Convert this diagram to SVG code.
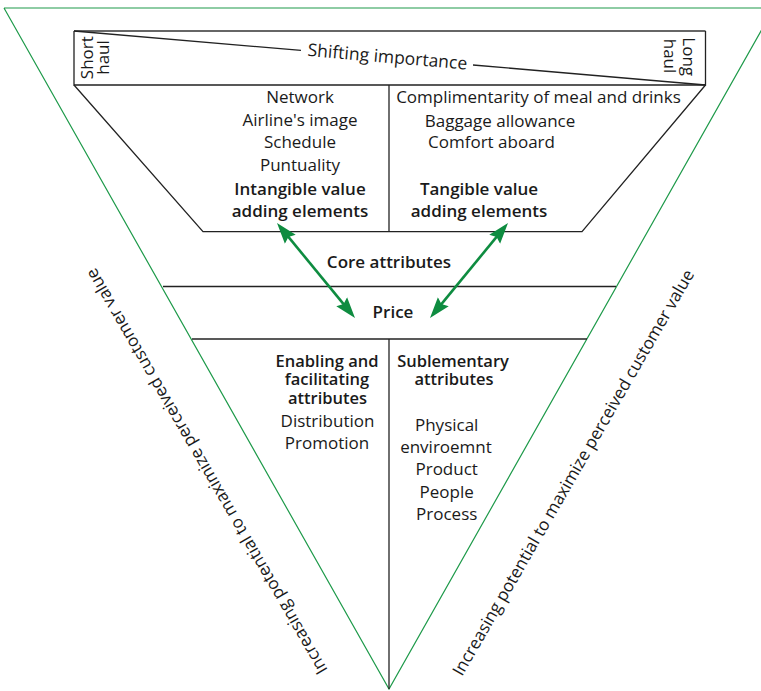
<svg xmlns="http://www.w3.org/2000/svg" width="761" height="691" viewBox="0 0 761 691">
<style>
text{font-family:"Open Sans","Noto Sans","Liberation Sans",sans-serif;font-size:17px;fill:#1a1a1a}
.m{text-anchor:middle}
.b{font-weight:600}
.s{font-size:16.5px}
.ln{stroke:#222;stroke-width:1.3;fill:none}
.g{stroke:#1e9a4a;stroke-width:1.2;fill:none}
.ar{stroke:#0e8c40;stroke-width:2.6;fill:none;marker-start:url(#ah);marker-end:url(#ah)}
</style>
<defs>
<marker id="ah" markerUnits="userSpaceOnUse" markerWidth="22" markerHeight="16" viewBox="0 0 22 16" refX="15" refY="8" orient="auto-start-reverse">
<path d="M0,1 L21,8 L0,15 L3,8 z" fill="#0e8c40"/>
</marker>
</defs>
<rect width="761" height="691" fill="#fff"/>
<g id="outer-triangle">
<path class="g" d="M4,8 L761,8 M4,8 L389,689 L774,8"/>
</g>
<g id="structure">
<line x1="74" y1="31" x2="705.5" y2="31" stroke="#666" stroke-width="2"/>
<path class="ln" d="M74,31 L74,85 L705.5,85 L705.5,31"/>
<path class="ln" d="M74,85 L203,231.7 L582,231.7 L705.5,85"/>
<line class="ln" x1="389" y1="85" x2="389" y2="231.7"/>
<line class="ln" x1="163" y1="286.5" x2="616" y2="286.5"/>
<line class="ln" x1="192" y1="339" x2="587" y2="339"/>
<line class="ln" x1="389" y1="339" x2="389" y2="689"/>
<path class="ln" d="M74,31 L301,50.4 M473,65 L705.5,85"/>
</g>
<g id="header">
<text class="m" style="font-size:17.5px" transform="translate(387,62.7) rotate(4.9)">Shifting importance</text>
<text class="m" transform="translate(93.3,57.7) rotate(-90)">Short</text>
<text class="m" transform="translate(109,57.5) rotate(-90)">haul</text>
<text class="m" transform="translate(682.5,56.7) rotate(90)">Long</text>
<text class="m" transform="translate(663.5,56) rotate(90)">haul</text>
</g>
<g id="intangible">
<text class="m" x="300" y="103.3">Network</text>
<text class="m" x="300" y="126">Airline's image</text>
<text class="m" x="300" y="148">Schedule</text>
<text class="m" x="300" y="171">Puntuality</text>
<text class="m b" x="300" y="194.5">Intangible value</text>
<text class="m b" x="300" y="216.5">adding elements</text>
</g>
<g id="tangible">
<text class="m" x="538.5" y="103.3">Complimentarity of meal and drinks</text>
<text class="m" x="500" y="126.5">Baggage allowance</text>
<text class="m" x="491.5" y="148">Comfort aboard</text>
<text class="m b" x="479" y="194.5">Tangible value</text>
<text class="m b" x="479" y="216.5">adding elements</text>
</g>
<g id="core">
<text class="m b" x="389" y="268.3">Core attributes</text>
</g>
<g id="price">
<text class="m b" x="393" y="317.7">Price</text>
</g>
<g id="enabling">
<text class="m b s" x="327" y="367.3">Enabling and</text>
<text class="m b s" x="327" y="385">facilitating</text>
<text class="m b s" x="327.5" y="404">attributes</text>
<text class="m" x="327.5" y="427">Distribution</text>
<text class="m" x="327" y="449">Promotion</text>
</g>
<g id="sublementary">
<text class="m b s" x="453" y="367.3">Sublementary</text>
<text class="m b s" x="454" y="385">attributes</text>
<text class="m" x="446.7" y="430.7">Physical</text>
<text class="m" x="446" y="453">enviroemnt</text>
<text class="m" x="446.7" y="475">Product</text>
<text class="m" x="446.7" y="498">People</text>
<text class="m" x="446.7" y="520">Process</text>
</g>
<g id="side-labels">
<text transform="translate(328,670) rotate(-120)">Increasing potential to maximize perceived customer value</text>
<text transform="translate(462,677) rotate(-60)">Increasing potential to maximize perceived customer value</text>
</g>
<g id="connectors">
<line class="ar" x1="280.8" y1="227.6" x2="351.2" y2="313.4"/>
<line class="ar" x1="504.2" y1="227.6" x2="433.8" y2="313.4"/>
</g>
</svg>
